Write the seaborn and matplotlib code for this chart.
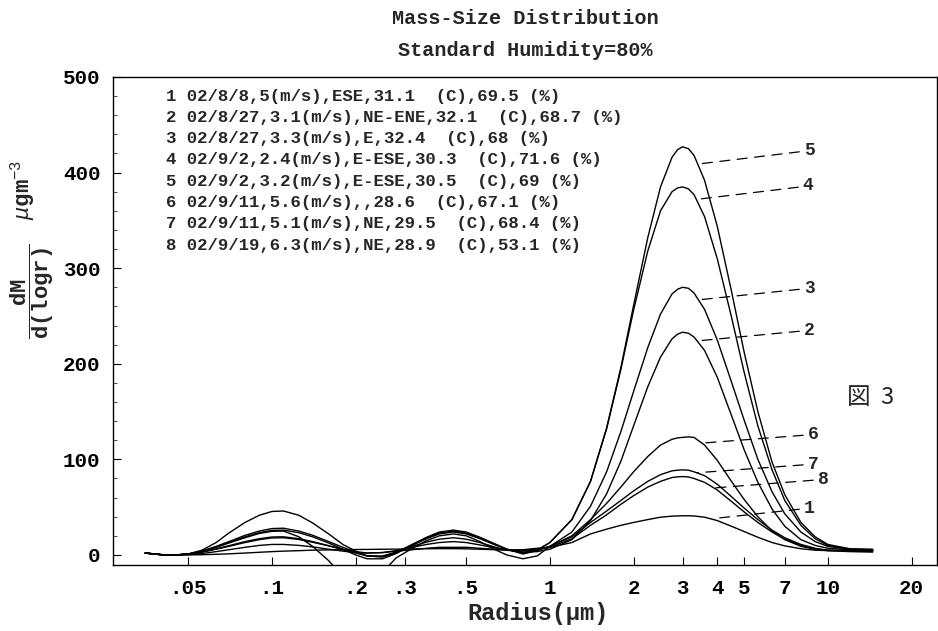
import numpy as np
import pandas as pd
import matplotlib
matplotlib.use("Agg")
import matplotlib.pyplot as plt
from matplotlib.ticker import FixedLocator, NullLocator, MultipleLocator
import seaborn as sns

# ---------------- data ----------------
radius = [0.035, 0.04, 0.045, 0.05, 0.056, 0.063, 0.07, 0.08, 0.09, 0.1,
          0.11, 0.125, 0.14, 0.16, 0.18, 0.2, 0.22, 0.25, 0.28, 0.32,
          0.36, 0.4, 0.45, 0.5, 0.56, 0.63, 0.7, 0.8, 0.9,
          1.0, 1.2, 1.4, 1.6, 1.8, 2.0, 2.25, 2.5, 2.75, 2.88, 3.0, 3.15,
          3.3, 3.6, 4.0, 4.5, 5.0, 5.6, 6.3, 7.0, 8.0, 9.0,
          10, 12, 14.5]

curve1 = [2, 0.3, 0, 0, 0.3, 0.7, 1.2, 2, 2.8, 3.5,
          4, 4.5, 5, 5.3, 5.5, 5.7, 5.8, 6, 6.1, 6.3,
          6.5, 6.6, 6.6, 6.4, 6, 5.5, 5.2, 5.5, 7,
          8, 13, 22, 27, 31, 34, 37, 39.5, 40.6, 40.8, 41, 41,
          40.8, 39.5, 36, 30, 24.5, 18.5, 13, 9.5, 6.5, 5,
          4.5, 4.5, 4]
curve2 = [2, 0.3, 0, 1, 3, 6.5, 9.7, 14, 17, 18.8,
          19, 17, 14, 9.7, 5.5, 2, -1, -1, 3, 9,
          13.5, 16.5, 18, 16.5, 13, 8.5, 5, 3, 3.5,
          6, 16, 36, 64, 98, 135, 176, 207, 226, 231, 233, 232,
          228, 214, 186, 146, 110, 76, 48, 30, 16, 10,
          7, 5.5, 5]
curve3 = [2, 0.3, 0, 1, 4, 8, 12.5, 18, 22.5, 24.7,
          25, 19, 9, -6, -22, -32, -32, -18, -3, 7,
          15, 20, 22, 20, 14, 6, 0, -4, -1,
          9, 24, 51, 87, 129, 171, 217, 252, 273, 278, 280, 279,
          274, 257, 225, 181, 141, 100, 66, 43, 24, 14,
          9, 6, 5]
curve4 = [2, 0.3, 0, 1, 4, 9, 14, 20.5, 25, 27.6,
          28, 25, 20.6, 14, 8, 3, -1, -2, 3, 11,
          18, 23, 25, 23, 18, 11.5, 6, 2, 5,
          13, 37, 77, 132, 194, 256, 318, 360, 380, 384, 385, 383,
          377, 354, 310, 249, 191, 135, 89, 57, 31, 17,
          10, 6, 5.5]
curve5 = [2, 0.3, 0, 1, 5, 13, 23, 34, 41.5, 45.5,
          46, 41.5, 33.5, 22, 11, 4, -1, -2, 2, 10,
          17, 22, 24, 22, 17, 11, 6, 2, 5,
          13, 37, 77, 133, 196, 261, 332, 385, 416, 424, 427, 425,
          418, 392, 344, 276, 212, 150, 97, 63, 34, 19,
          11, 6.5, 6]
curve6 = [2, 0.3, 0, 1, 3, 6, 9, 13, 16, 17.8,
          18, 16.2, 13.3, 9.5, 6, 3.5, 2, 2.5, 4.5, 8,
          11, 13, 14, 13, 10.5, 7.5, 5, 4, 5.5,
          9, 20, 37, 54, 71, 87, 103, 115, 121, 122.5, 123, 123.5,
          123, 115, 99, 77, 58, 40, 25, 16, 9, 6,
          5, 5, 4]
curve7 = [2, 0.3, 0, 1, 4, 8.5, 13, 19, 23.4, 25.7,
          26, 23.3, 19, 12.5, 6, 0, -4, -4, 1.5, 11,
          18.5, 24, 26, 24, 18.5, 12, 6, 1, 4.5,
          9, 19, 34, 46, 57, 67, 77, 84, 88, 88.7, 89, 88.7,
          87, 83, 74, 61, 49, 37, 26, 18, 11, 7,
          5, 4, 4]
curve8 = [2, 0.3, 0, 0.5, 1.5, 3.5, 5.5, 8, 10, 11,
          11, 10, 8.5, 6, 4, 2.5, 2, 2.5, 4, 5.5,
          7, 8, 8, 8, 7, 6, 5, 5, 6,
          8, 17, 31, 42, 53, 62, 71, 77, 81, 81.7, 82, 81.6,
          80, 76, 68, 56, 45, 34, 24, 16.5, 10, 6.5,
          4.5, 3.5, 3]

curve_names = ["1", "2", "3", "4", "5", "6", "7", "8"]
curves = [curve1, curve2, curve3, curve4, curve5, curve6, curve7, curve8]

legend_lines = [
    "1 02/8/8,5(m/s),ESE,31.1  (C),69.5 (%)",
    "2 02/8/27,3.1(m/s),NE-ENE,32.1  (C),68.7 (%)",
    "3 02/8/27,3.3(m/s),E,32.4  (C),68 (%)",
    "4 02/9/2,2.4(m/s),E-ESE,30.3  (C),71.6 (%)",
    "5 02/9/2,3.2(m/s),E-ESE,30.5  (C),69 (%)",
    "6 02/9/11,5.6(m/s),,28.6  (C),67.1 (%)",
    "7 02/9/11,5.1(m/s),NE,29.5  (C),68.4 (%)",
    "8 02/9/19,6.3(m/s),NE,28.9  (C),53.1 (%)",
]

xtick_values = [0.05, 0.1, 0.2, 0.3, 0.5, 1, 2, 3, 4, 5, 7, 10, 20]
xtick_labels = [".05", ".1", ".2", ".3", ".5", "1", "2", "3", "4", "5", "7", "10", "20"]

# label anchor points (on curve) and label positions
label_names = ["5", "4", "3", "2", "6", "7", "8", "1"]
label_xy = [(3.42, 409), (3.38, 372), (3.46, 267), (3.41, 224),
            (3.52, 117), (3.38, 86), (3.86, 70), (3.86, 38)]
label_text_xy = [(8.2, 423), (8.13, 386), (8.2, 279), (8.2, 235),
                 (8.47, 126), (8.47, 95), (9.2, 79), (8.2, 49)]

# ---------------- style ----------------
sns.set_style("ticks")
plt.rcParams["font.family"] = ["Liberation Mono", "DejaVu Sans"]
plt.rcParams["mathtext.fontset"] = "custom"
plt.rcParams["mathtext.rm"] = "Liberation Mono"
plt.rcParams["mathtext.bf"] = "Liberation Mono:bold"
plt.rcParams["mathtext.it"] = "Liberation Mono:italic"

df = pd.concat(
    [pd.DataFrame({"r": radius, "v": vals, "curve": name})
     for name, vals in zip(curve_names, curves)],
    ignore_index=True)

fig = plt.figure(figsize=(9.38, 6.31), dpi=100)
ax = fig.add_axes([113 / 938, 66 / 631, 824 / 938, 488 / 631])

sns.lineplot(data=df, x="r", y="v", units="curve", estimator=None,
             color="black", lw=1.0, ax=ax, legend=False, sort=False)

ax.set_xscale("log")
ax.set_xlim(0.0268, 24.7)
ax.set_ylim(-10.5, 500)

ax.xaxis.set_major_locator(FixedLocator(xtick_values))
ax.set_xticklabels(xtick_labels)
ax.xaxis.set_minor_locator(NullLocator())
ax.yaxis.set_major_locator(MultipleLocator(100))
ax.yaxis.set_minor_locator(MultipleLocator(20))

ax.tick_params(axis="both", which="major", direction="in", length=6, width=0.8,
               labelsize=15, colors="black")
ax.tick_params(axis="x", which="major", pad=10)
ax.tick_params(axis="y", which="major", pad=9)
ax.tick_params(axis="y", which="minor", direction="in", length=3, width=0.6)
for lbl in ax.get_xticklabels() + ax.get_yticklabels():
    lbl.set_fontweight("bold")

for sp in ax.spines.values():
    sp.set_visible(True)
    sp.set_color("black")
    sp.set_linewidth(1.0)

ax.set_xlabel("Radius(μm)", fontsize=17, fontweight="bold")
ax.xaxis.set_label_coords(0.516, -0.075)
ax.set_ylabel("")

# y label, in two pieces like the original
fig.text(32 / 938, 1 - 291 / 631, r"$\dfrac{\mathbf{dM}}{\mathbf{d(logr)}}$",
         rotation=90, ha="center", va="center", fontsize=16)
fig.text(23 / 938, 1 - 190 / 631, r"$\mu\mathbf{gm}^{-3}$",
         rotation=90, ha="center", va="center", fontsize=16)

# titles
fig.text(525 / 938, 1 - 18 / 631, "Mass-Size Distribution",
         ha="center", va="center", fontsize=14.5, fontweight="bold")
fig.text(525 / 938, 1 - 50 / 631, "Standard Humidity=80%",
         ha="center", va="center", fontsize=14.5, fontweight="bold")

# legend block
for i, line in enumerate(legend_lines):
    y_px = 96 + i * 21.3
    ax.text((166 - 113) / 824, (565 - y_px) / 488, line, transform=ax.transAxes,
            fontsize=12.5, fontweight="bold", ha="left", va="center")

# curve labels with dashed leaders
for name, xy, xt in zip(label_names, label_xy, label_text_xy):
    ax.annotate(name, xy=xy, xytext=xt, textcoords="data",
                ha="left", va="center", fontsize=13, fontweight="bold",
                arrowprops=dict(arrowstyle="-", linestyle=(0, (8, 6)), lw=0.9,
                                color="black", shrinkA=1, shrinkB=0))

ax.text((871 - 113) / 824, (565 - 398) / 488, "図  3", transform=ax.transAxes,
        ha="center", va="center", fontsize=17,
        family=["Noto Sans CJK JP", "DejaVu Sans"])

fig.savefig("out.png", dpi=100)
